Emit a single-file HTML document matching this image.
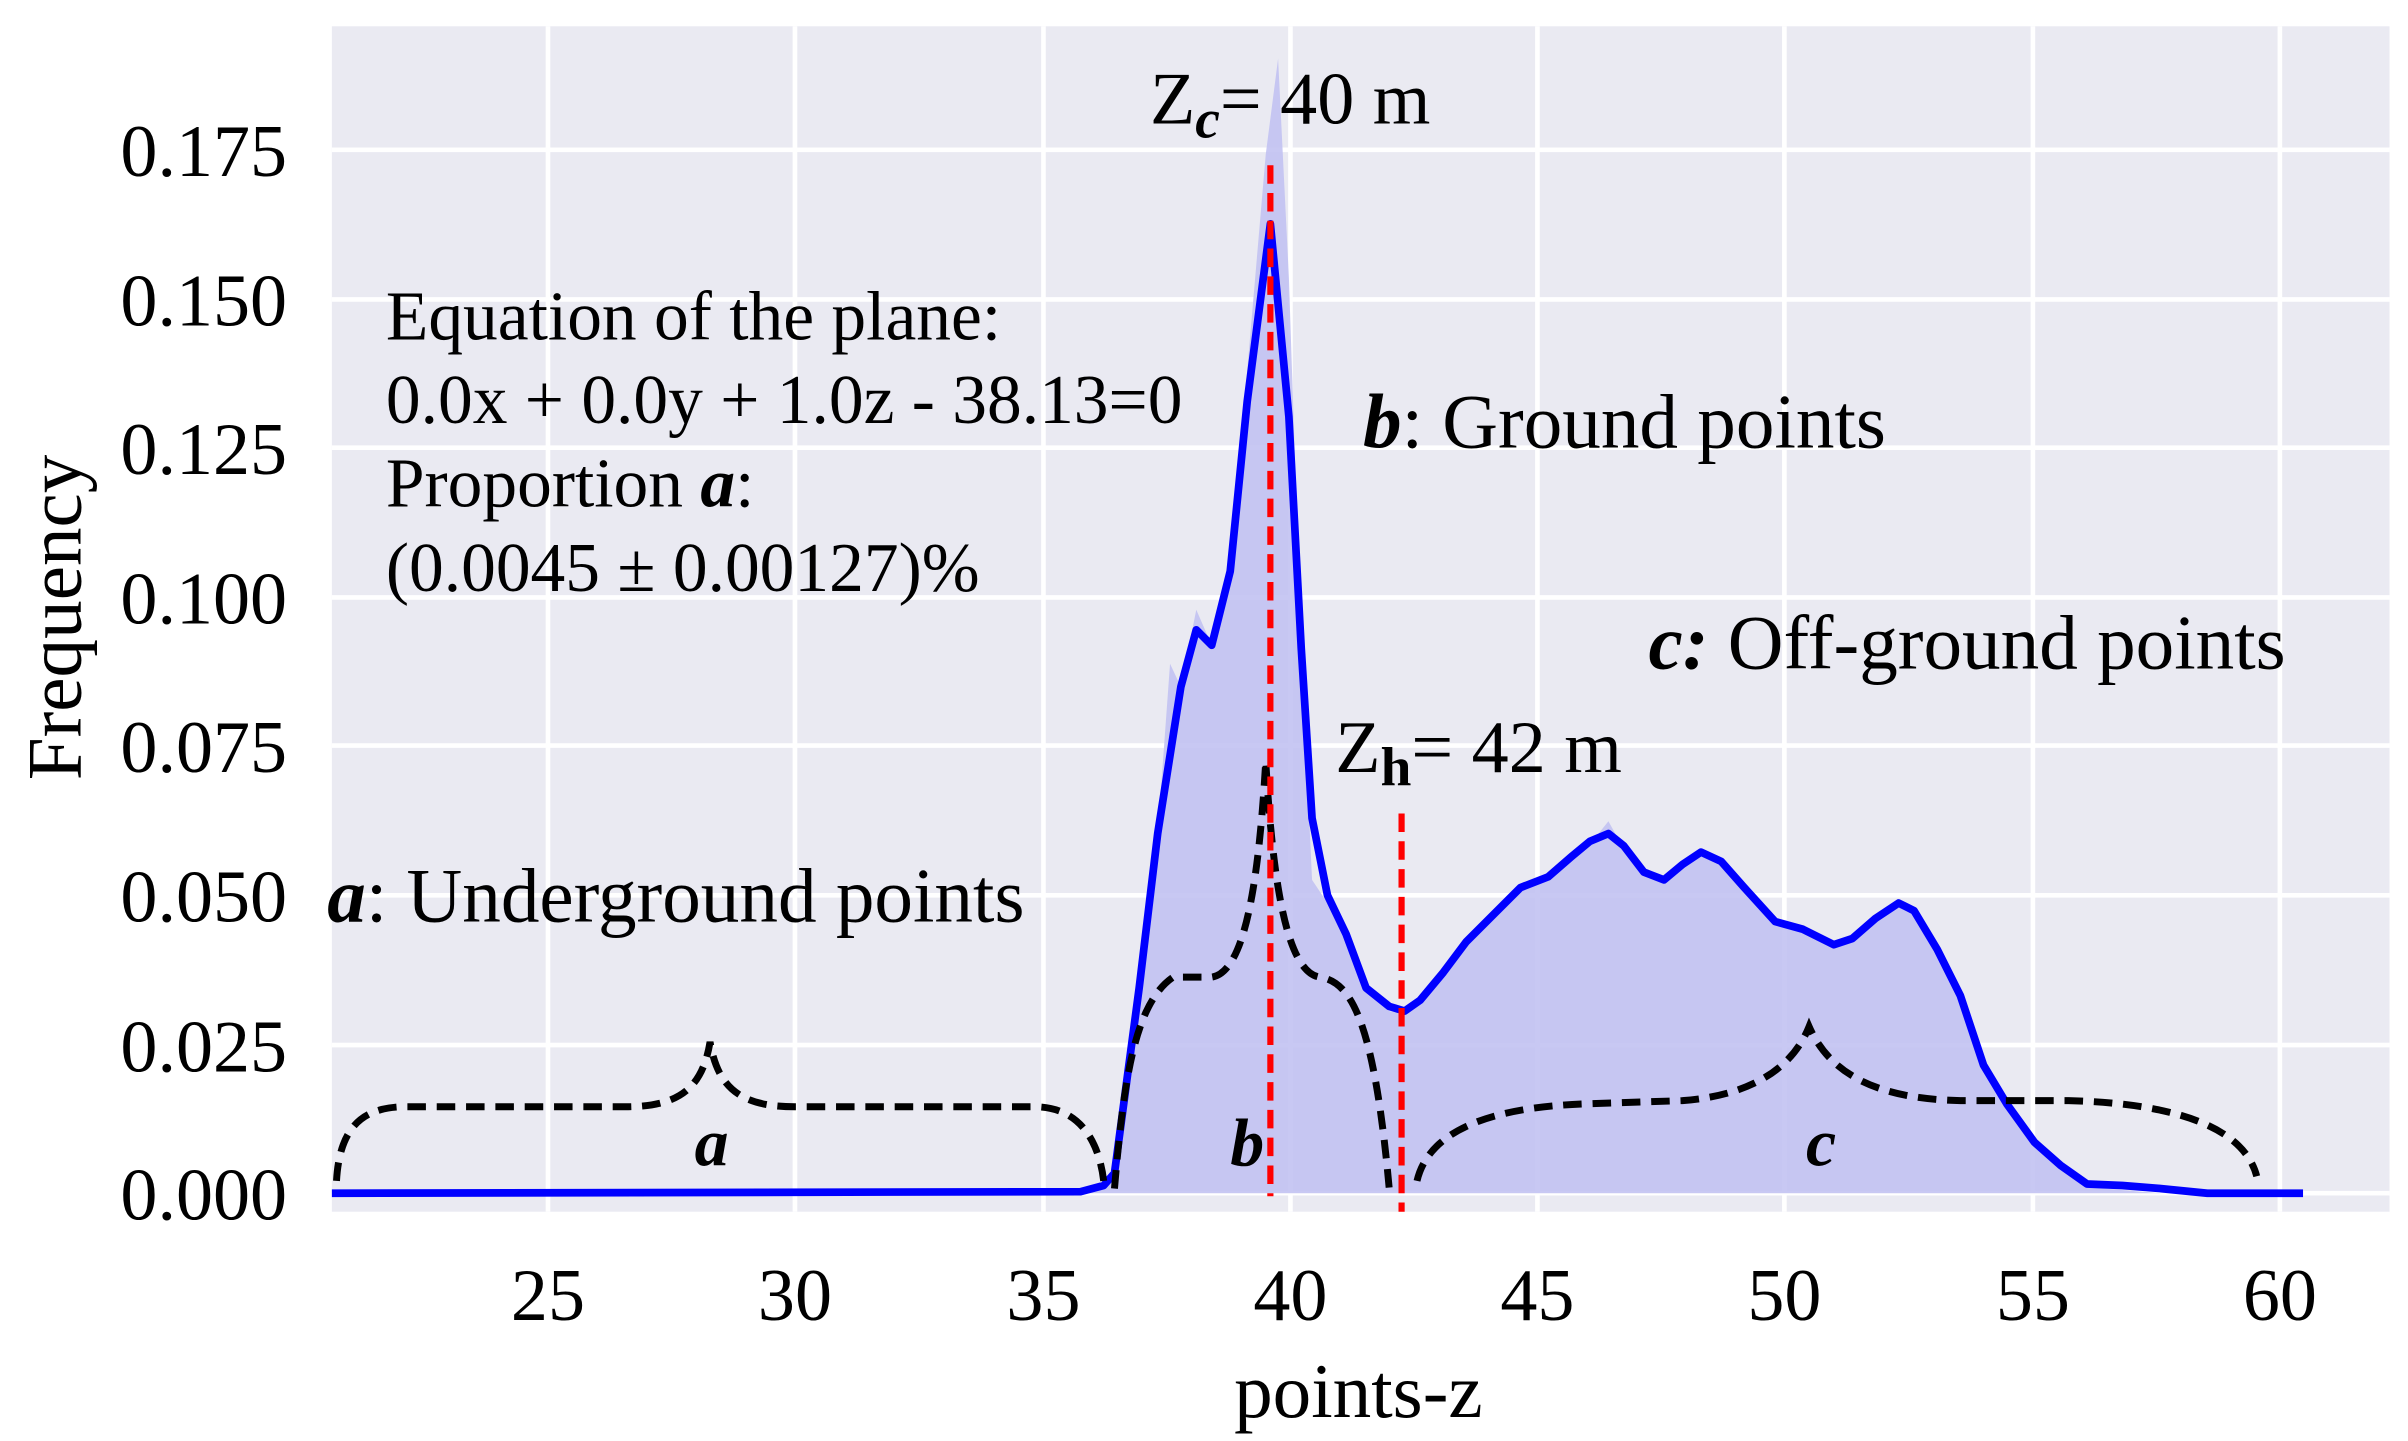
<!DOCTYPE html>
<html><head><meta charset="utf-8"><style>
html,body{margin:0;padding:0;background:#fff;}
svg{display:block;}
text{font-family:"Liberation Serif",serif;fill:#000;}
</style></head><body>
<svg width="2408" height="1441" viewBox="0 0 1560 933.5" xmlns="http://www.w3.org/2000/svg">
<rect x="215" y="17" width="1333" height="768" fill="#eaeaf2"/>
<g stroke="#fff" stroke-width="3">
<line x1="355" y1="17" x2="355" y2="785"/><line x1="515" y1="17" x2="515" y2="785"/>
<line x1="676" y1="17" x2="676" y2="785"/><line x1="836" y1="17" x2="836" y2="785"/>
<line x1="996" y1="17" x2="996" y2="785"/><line x1="1156" y1="17" x2="1156" y2="785"/>
<line x1="1317" y1="17" x2="1317" y2="785"/><line x1="1477" y1="17" x2="1477" y2="785"/>
<line x1="215" y1="773" x2="1548" y2="773"/><line x1="215" y1="677" x2="1548" y2="677"/>
<line x1="215" y1="580" x2="1548" y2="580"/><line x1="215" y1="483" x2="1548" y2="483"/>
<line x1="215" y1="387" x2="1548" y2="387"/><line x1="215" y1="290" x2="1548" y2="290"/>
<line x1="215" y1="194" x2="1548" y2="194"/><line x1="215" y1="97" x2="1548" y2="97"/>
</g>
<!-- histogram -->
<polygon fill="#c2c2f2" opacity="0.9" points="700,773 715,768 722,760 730,700 738,640 750,540 758,430 765,445 775,395 785,418 797,370 808,240 820,100 828,38 835,180 843,420 850,570 860,585 872,600 885,640 900,655 910,657 920,650 935,632 950,612 970,592 985,577 1003,570 1018,557 1030,547 1042,532 1052,550 1065,567 1078,572 1090,562 1102,550 1115,560 1130,577 1150,599 1168,604 1188,614 1200,610 1215,597 1230,583 1240,592 1255,617 1270,647 1285,692 1300,717 1318,742 1335,757 1352,769 1375,771 1400,773"/>
<!-- blue curve -->
<polyline fill="none" stroke="#0000ff" stroke-width="5" stroke-linejoin="round" points="215,773 700,772 715,768 722,760 730,700 738,640 750,540 765,445 775,408 785,418 797,370 808,260 823,145 835,270 843,420 850,530 860,580 872,605 885,640 900,652 910,655 920,648 935,630 950,610 970,590 985,575 1003,568 1018,555 1030,545 1042,540 1052,548 1065,565 1078,570 1090,560 1102,552 1115,558 1130,575 1150,597 1168,602 1188,612 1200,608 1215,595 1230,585 1240,590 1255,615 1270,645 1285,690 1300,715 1318,740 1335,755 1352,767 1375,768 1400,770 1430,773 1492,773"/>
<!-- braces -->
<g fill="none" stroke="#000" stroke-width="4.5" stroke-dasharray="12,7">
<path d="M218,765 C220,730 235,718 260,717 L405,717 C440,717 455,705 460,675 C465,705 480,717 515,717 L670,717 C700,717 712,740 715,765"/>
<path d="M722,770 C728,700 735,650 760,633 L785,633 C805,630 815,580 820,493 C825,580 835,630 855,633 C875,636 890,660 900,770"/>
<path d="M918,765 C925,735 960,717 1030,715 L1090,713 C1130,710 1160,695 1172,665 C1185,695 1215,712 1270,713 L1340,713 C1420,715 1455,735 1462,762"/>
</g>
<!-- red lines -->
<g stroke="#ff0000" stroke-width="4" stroke-dasharray="12,6">
<line x1="823" y1="107" x2="823" y2="775"/>
<line x1="908" y1="527" x2="908" y2="785"/>
</g>
<!-- ticks -->
<g font-size="48" text-anchor="end">
<text x="186" y="790">0.000</text><text x="186" y="694">0.025</text>
<text x="186" y="597">0.050</text><text x="186" y="500">0.075</text>
<text x="186" y="404">0.100</text><text x="186" y="307">0.125</text>
<text x="186" y="211">0.150</text><text x="186" y="114">0.175</text>
</g>
<g font-size="48" text-anchor="middle">
<text x="355" y="855">25</text><text x="515" y="855">30</text><text x="676" y="855">35</text>
<text x="836" y="855">40</text><text x="996" y="855">45</text><text x="1156" y="855">50</text>
<text x="1317" y="855">55</text><text x="1477" y="855">60</text>
</g>
<text x="880" y="918" font-size="50" text-anchor="middle">points-z</text>
<text transform="translate(52,400) rotate(-90)" font-size="50" text-anchor="middle">Frequency</text>
<!-- annotations -->
<g font-size="45">
<text x="250" y="220">Equation of the plane:</text>
<text x="250" y="274">0.0x + 0.0y + 1.0z - 38.13=0</text>
<text x="250" y="328">Proportion <tspan font-weight="bold" font-style="italic">a</tspan>:</text>
<text x="250" y="383">(0.0045 ± 0.00127)%</text>
</g>
<g font-size="50">
<text x="883" y="290"><tspan font-weight="bold" font-style="italic">b</tspan>: Ground points</text>
<text x="1068" y="433"><tspan font-weight="bold" font-style="italic">c:</tspan> Off-ground points</text>
<text x="212" y="597"><tspan font-weight="bold" font-style="italic">a</tspan>: Underground points</text>
</g>
<g font-size="48">
<text x="745" y="80">Z<tspan font-size="36" dy="9" font-weight="bold" font-style="italic">c</tspan><tspan dy="-9">= 40 m</tspan></text>
<text x="865" y="500">Z<tspan font-size="36" dy="9" font-weight="bold">h</tspan><tspan dy="-9">= 42 m</tspan></text>
</g>
<g font-size="44" font-weight="bold" font-style="italic">
<text x="450" y="755">a</text><text x="797" y="755">b</text><text x="1170" y="755">c</text>
</g>
</svg>
</body></html>
